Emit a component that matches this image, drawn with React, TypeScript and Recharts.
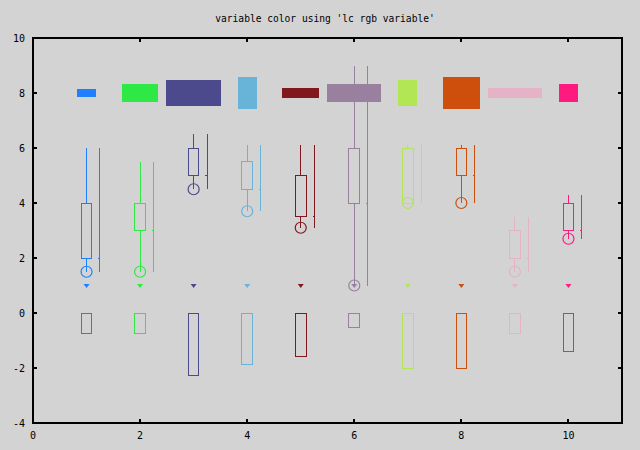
import React from 'react';
import { ComposedChart, XAxis, YAxis, Scatter, ReferenceArea, ReferenceLine } from 'recharts';

// ---- data ----
const xs = [1, 2, 3, 4, 5, 6, 7, 8, 9, 10];
const colors = ['#1E80FF', '#2EE846', '#4C4A8C', '#68B4D8', '#80181E', '#98809E', '#B2E654', '#CE4E0C', '#E6B2C6', '#FF1A80'];
const mins = [1.5, 1.5, 4.5, 3.7, 3.1, 1, 4, 4, 1.5, 2.7];
const q1s = [2, 3, 5, 4.5, 3.5, 4, 4, 5, 2, 3];
const q3s = [4, 4, 6, 5.5, 5, 6, 6, 6, 3, 4];
const maxs = [6, 5.5, 6.5, 6.1, 6.1, 9, 6.1, 6.1, 3.5, 4.3];
const topCenterY = 8;
const topWidths = [0.36, 0.68, 1.02, 0.36, 0.69, 1.01, 0.36, 0.69, 1.01, 0.36];
const topHeights = [0.32, 0.62, 0.91, 1.17, 0.33, 0.62, 0.91, 1.17, 0.33, 0.62];
const bottomVals = [-0.76, -0.76, -2.27, -1.87, -1.58, -0.52, -2.01, -2.01, -0.76, -1.39];
const markerY = 1;
const boxWidth = 0.2;
const barOffset = 0.25;
const barTick = 0.03;
const xTicks = [0, 2, 4, 6, 8, 10];
const yTicks = [-4, -2, 0, 2, 4, 6, 8, 10];
const xDomain = [0, 11];
const yDomain = [-4, 10];
const title = "variable color using 'lc rgb variable'";

// ---- layout / style ----
const W = 640;
const H = 450;
const MARGIN = { top: 38, right: 18, bottom: 0, left: 0 };
const PLOT_TOP = MARGIN.top;
const PLOT_RIGHT = W - MARGIN.right;
const BG = '#d3d3d3';
const FONT = "'DejaVu Sans Mono', 'Liberation Mono', monospace";
const TICK_LEN = 4;
const CRISP = 'crispEdges';

const circleData = xs.map((x, i) => ({ x, y: mins[i], color: colors[i] }));
const markerData = xs.map((x, i) => ({ x, y: markerY, color: colors[i] }));

const XTick = (props: any) => {
  const { x, y, payload } = props;
  return (
    <g>
      <line x1={x} x2={x} y1={y} y2={y - TICK_LEN} stroke="#000" strokeWidth={2} shapeRendering={CRISP} />
      <line x1={x} x2={x} y1={PLOT_TOP} y2={PLOT_TOP + TICK_LEN} stroke="#000" strokeWidth={2} shapeRendering={CRISP} />
      <text x={x} y={y + 16} textAnchor="middle" fontFamily={FONT} fontSize={10} fill="#000">
        {payload.value}
      </text>
    </g>
  );
};

const YTick = (props: any) => {
  const { x, y, payload } = props;
  return (
    <g>
      <line x1={x} x2={x + TICK_LEN} y1={y} y2={y} stroke="#000" strokeWidth={2} shapeRendering={CRISP} />
      <line x1={PLOT_RIGHT - TICK_LEN} x2={PLOT_RIGHT} y1={y} y2={y} stroke="#000" strokeWidth={2} shapeRendering={CRISP} />
      <text x={x - 8} y={y} dy="0.35em" textAnchor="end" fontFamily={FONT} fontSize={10} fill="#000">
        {payload.value}
      </text>
    </g>
  );
};

const CircleShape = (props: any) => {
  const { cx, cy, payload } = props;
  return <circle cx={cx} cy={cy} r={5.5} fill="none" stroke={payload.color} strokeWidth={1.2} />;
};

const TriangleShape = (props: any) => {
  const { cx, cy, payload } = props;
  const pts = `${cx - 3},${cy - 1.5} ${cx + 3},${cy - 1.5} ${cx},${cy + 2.5}`;
  return <polygon points={pts} fill={payload.color} stroke="none" />;
};

export default function App() {
  return (
    <div style={{ position: 'absolute', left: 0, top: 0, width: W, height: H, background: BG }}>
      <div
        style={{
          position: 'absolute',
          top: 13,
          left: 0,
          width: 650,
          textAlign: 'center',
          fontFamily: FONT,
          fontSize: '9.6px',
          lineHeight: '12px',
          color: '#000',
          whiteSpace: 'pre',
        }}
      >
        {title}
      </div>
      <ComposedChart width={W} height={H} margin={MARGIN}>
        <XAxis
          type="number"
          dataKey="x"
          domain={xDomain}
          ticks={xTicks}
          interval={0}
          allowDataOverflow
          height={27}
          axisLine={false}
          tickLine={false}
          tickSize={0}
          tickMargin={0}
          tick={<XTick />}
        />
        <YAxis
          type="number"
          dataKey="y"
          domain={yDomain}
          ticks={yTicks}
          interval={0}
          allowDataOverflow
          width={33}
          axisLine={false}
          tickLine={false}
          tickSize={0}
          tickMargin={0}
          tick={<YTick />}
        />

        {/* top filled boxes (boxxyerror) */}
        {xs.map((x, i) => (
          <ReferenceArea
            key={'top' + i}
            x1={x - topWidths[i] / 2}
            x2={x + topWidths[i] / 2}
            y1={topCenterY - topHeights[i] / 2}
            y2={topCenterY + topHeights[i] / 2}
            fill={colors[i]}
            fillOpacity={1}
            stroke="none"
            shapeRendering={CRISP}
          />
        ))}

        {/* candlestick boxes */}
        {xs.map((x, i) => (
          <ReferenceArea
            key={'cb' + i}
            x1={x - boxWidth / 2}
            x2={x + boxWidth / 2}
            y1={q1s[i]}
            y2={q3s[i]}
            fill="none"
            stroke={colors[i]}
            strokeWidth={1}
            shapeRendering={CRISP}
          />
        ))}
        {/* candlestick whiskers */}
        {xs.map((x, i) => (
          <ReferenceLine
            key={'wl' + i}
            segment={[{ x, y: mins[i] }, { x, y: q1s[i] }]}
            stroke={colors[i]}
            strokeWidth={1}
            shapeRendering={CRISP}
          />
        ))}
        {xs.map((x, i) => (
          <ReferenceLine
            key={'wh' + i}
            segment={[{ x, y: q3s[i] }, { x, y: maxs[i] }]}
            stroke={colors[i]}
            strokeWidth={1}
            shapeRendering={CRISP}
          />
        ))}

        {/* finance bars */}
        {xs.map((x, i) => (
          <ReferenceLine
            key={'fb' + i}
            segment={[{ x: x + barOffset, y: mins[i] }, { x: x + barOffset, y: maxs[i] }]}
            stroke={colors[i]}
            strokeWidth={1}
            shapeRendering={CRISP}
          />
        ))}
        {xs.map((x, i) => (
          <ReferenceLine
            key={'ft' + i}
            segment={[{ x: x + barOffset - barTick, y: q1s[i] }, { x: x + barOffset, y: q1s[i] }]}
            stroke={colors[i]}
            strokeWidth={1}
            shapeRendering={CRISP}
          />
        ))}

        {/* bottom hollow boxes */}
        {xs.map((x, i) => (
          <ReferenceArea
            key={'bb' + i}
            x1={x - boxWidth / 2}
            x2={x + boxWidth / 2}
            y1={bottomVals[i]}
            y2={0}
            fill="none"
            stroke={colors[i]}
            strokeWidth={1}
            shapeRendering={CRISP}
          />
        ))}

        <Scatter data={circleData} dataKey="y" shape={<CircleShape />} isAnimationActive={false} />
        <Scatter data={markerData} dataKey="y" shape={<TriangleShape />} isAnimationActive={false} />

        {/* frame */}
        <ReferenceArea
          x1={xDomain[0]}
          x2={xDomain[1]}
          y1={yDomain[0]}
          y2={yDomain[1]}
          fill="none"
          stroke="#000"
          strokeWidth={2}
          shapeRendering={CRISP}
        />
      </ComposedChart>
    </div>
  );
}
